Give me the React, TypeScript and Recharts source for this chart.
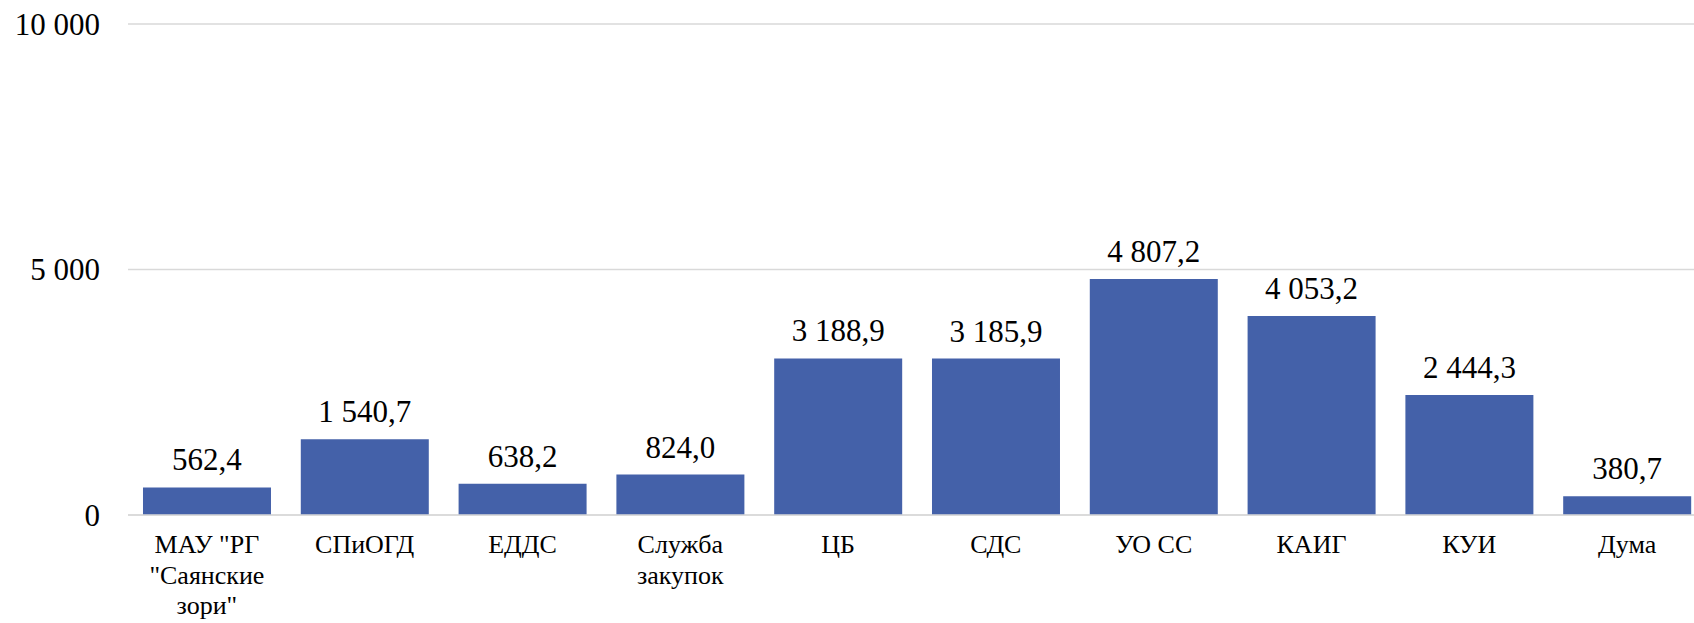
import React from "react";
import { BarChart, Bar, XAxis, YAxis, CartesianGrid, LabelList } from "recharts";

const categories = [
  'МАУ "РГ "Саянские зори"',
  "СПиОГД",
  "ЕДДС",
  "Служба закупок",
  "ЦБ",
  "СДС",
  "УО СС",
  "КАИГ",
  "КУИ",
  "Дума",
];
const categoryLines: string[][] = [
  ['МАУ "РГ', '"Саянские', 'зори"'],
  ["СПиОГД"],
  ["ЕДДС"],
  ["Служба", "закупок"],
  ["ЦБ"],
  ["СДС"],
  ["УО СС"],
  ["КАИГ"],
  ["КУИ"],
  ["Дума"],
];
const values = [562.4, 1540.7, 638.2, 824.0, 3188.9, 3185.9, 4807.2, 4053.2, 2444.3, 380.7];
const yTicks = [0, 5000, 10000];

const data = categories.map((c, i) => ({ name: c, idx: i, value: values[i] }));

const FONT = "Liberation Serif";

const groupThousands = (s: string) => s.replace(/\B(?=(\d{3})+(?!\d))/g, " ");
const fmtInt = (v: number) => groupThousands(String(Math.round(v)));
const fmtVal = (v: number) => {
  const [a, b] = v.toFixed(1).split(".");
  return groupThousands(a) + "," + b;
};

const XTick = (props: any) => {
  const { x, y, payload } = props;
  const lines = categoryLines[payload.index] || [String(payload.value)];
  return (
    <text x={x} y={y} textAnchor="middle" fontFamily={FONT} fontSize={26} fill="#000" style={{ fontFamily: FONT }}>
      {lines.map((l, i) => (
        <tspan key={i} x={x} y={y + 19 + i * 30.5}>
          {l}
        </tspan>
      ))}
    </text>
  );
};

const YTick = (props: any) => {
  const { x, y, payload } = props;
  return (
    <text x={x} y={y} dy="0.35em" textAnchor="end" fontFamily={FONT} fontSize={31} fill="#000" style={{ fontFamily: FONT }}>
      {fmtInt(payload.value)}
    </text>
  );
};

const ValueLabel = (props: any) => {
  const { x, y, width, value } = props;
  return (
    <text x={x + width / 2} y={y - 17} textAnchor="middle" fontFamily={FONT} fontSize={31} fill="#000" style={{ fontFamily: FONT }}>
      {fmtVal(Number(value))}
    </text>
  );
};

export default function App() {
  return (
    <div style={{ position: "absolute", left: 0, top: 0, width: 1694, height: 623, overflow: "hidden", background: "#fff", fontFamily: FONT }}>
      <BarChart
        width={1706}
        height={623}
        data={data}
        margin={{ top: 24, right: 0, bottom: 0, left: 0 }}
        barCategoryGap="9.5%"
      >
        <CartesianGrid vertical={false} stroke="#d9d9d9" strokeWidth={1.5} />
        <XAxis
          dataKey="name"
          height={108}
          tickLine={false}
          axisLine={{ stroke: "#d9d9d9", strokeWidth: 1.5 }}
          tickSize={0}
          tickMargin={19}
          interval={0}
          tick={<XTick />}
        />
        <YAxis
          width={128}
          domain={[0, 10000]}
          ticks={yTicks}
          axisLine={false}
          tickLine={false}
          tickSize={0}
          tickMargin={28}
          tick={<YTick />}
        />
        <Bar dataKey="value" fill="#4461A9" isAnimationActive={false}>
          <LabelList dataKey="value" content={<ValueLabel />} />
        </Bar>
      </BarChart>
    </div>
  );
}
